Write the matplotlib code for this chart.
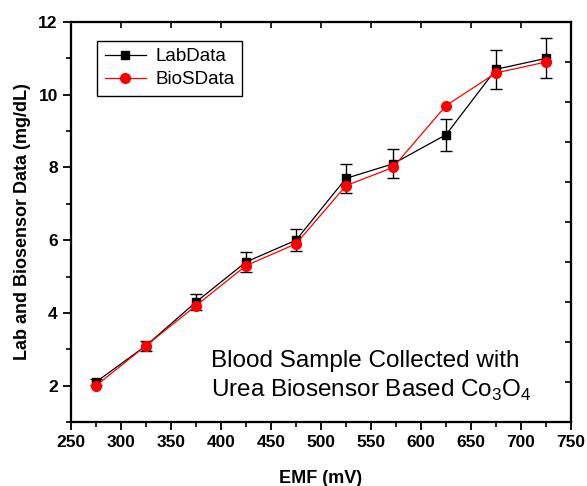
import matplotlib
matplotlib.use('Agg')
import matplotlib.pyplot as plt
from matplotlib.ticker import MultipleLocator

plt.rcParams['font.family'] = ['Liberation Sans', 'DejaVu Sans']
plt.rcParams['mathtext.fontset'] = 'custom'
plt.rcParams['mathtext.rm'] = 'Liberation Sans'

# data
emf = [275, 325, 375, 425, 475, 525, 572, 625, 675, 725]
lab_data = [2.1, 3.1, 4.3, 5.4, 6.0, 7.7, 8.1, 8.9, 10.7, 11.0]
lab_err = [0.08, 0.14, 0.21, 0.27, 0.3, 0.39, 0.4, 0.44, 0.53, 0.55]
bios_data = [2.0, 3.1, 4.2, 5.3, 5.9, 7.5, 8.0, 9.7, 10.6, 10.9]

fig = plt.figure(figsize=(5.87, 4.86), dpi=100)
ax = fig.add_axes([0.121, 0.1317, 0.8517, 0.823])

eb = ax.errorbar(emf, lab_data, yerr=lab_err, color='black', marker='s', markersize=6,
                 linewidth=0.9, elinewidth=1, capsize=4, capthick=1, zorder=3)
bio_line, = ax.plot(emf, bios_data, color='red', marker='o', markersize=7, linewidth=0.9,
                    zorder=4)

ax.set_xlim(250, 750)
ax.set_ylim(1, 12)
ax.xaxis.set_major_locator(MultipleLocator(50))
ax.xaxis.set_minor_locator(MultipleLocator(25))
ax.yaxis.set_major_locator(MultipleLocator(2))
ax.yaxis.set_minor_locator(MultipleLocator(1))
ax.tick_params(which='major', direction='out', length=6, width=1.3, labelsize=12.5)
ax.tick_params(which='minor', direction='out', length=3.5, width=1.2)
for lab in ax.get_xticklabels() + ax.get_yticklabels():
    lab.set_fontweight('bold')
for sp in ax.spines.values():
    sp.set_linewidth(1.5)

ax.set_xlabel('EMF (mV)', fontsize=13, fontweight='bold', labelpad=14)
ax.set_ylabel('Lab and Biosensor Data (mg/dL)', fontsize=13, fontweight='bold', labelpad=5)

# right and top axes: inward ticks, no labels
axr = ax.twinx()
axr.set_ylim(0, 10)
axr.yaxis.set_major_locator(MultipleLocator(1))
axr.tick_params(direction='in', length=4, width=1.2, labelright=False)
axt = ax.twiny()
axt.set_xlim(250, 750)
axt.xaxis.set_major_locator(MultipleLocator(50))
axt.tick_params(direction='in', length=4, width=1.2, labeltop=False)
for a in (axr, axt):
    for sp in a.spines.values():
        sp.set_linewidth(1.5)

leg = axt.legend([eb[0], bio_line], ['LabData', 'BioSData'], loc='upper left',
                 bbox_to_anchor=(0.052, 0.953), fontsize=13.5,
                 frameon=True, fancybox=False, edgecolor='black', framealpha=1,
                 borderpad=0.4, borderaxespad=0,
                 handlelength=2.2, handletextpad=0.5, labelspacing=0.3)
leg.get_frame().set_linewidth(1)

ax.text(0.28, 0.138, 'Blood Sample Collected with', transform=ax.transAxes,
        fontsize=17.5, ha='left', va='baseline')
ax.text(0.28, 0.063, 'Urea Biosensor Based Co$_3$O$_4$', transform=ax.transAxes,
        fontsize=17.5, ha='left', va='baseline')

fig.savefig('out.png', dpi=100)
